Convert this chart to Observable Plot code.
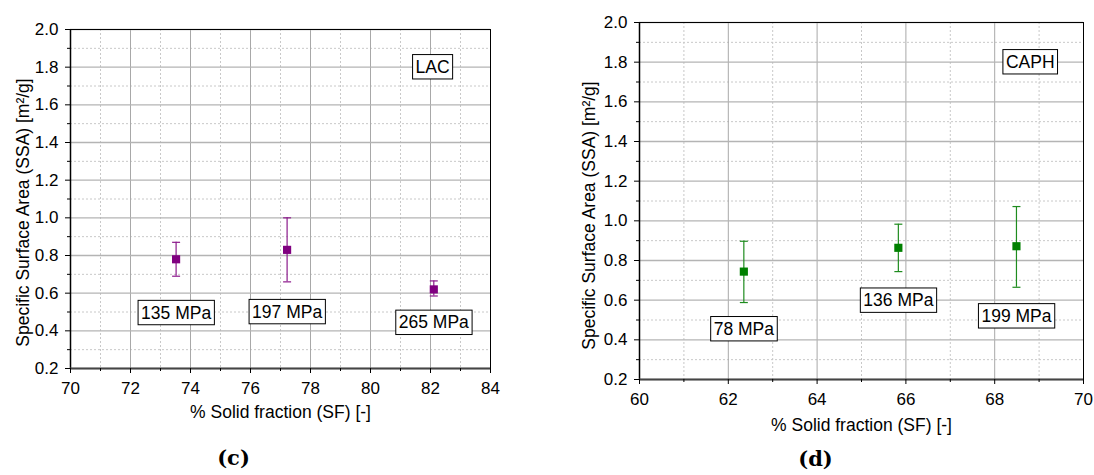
<!DOCTYPE html>
<html>
<head>
<meta charset="utf-8">
<script src="https://cdn.jsdelivr.net/npm/d3@7"></script>
<script src="https://cdn.jsdelivr.net/npm/@observablehq/plot@0.6"></script>
<style>
  body { margin: 0; background: #fff; }
  #wrap { position: relative; width: 1094px; height: 475px; overflow: hidden; background: #fff; }
  #wrap svg { position: absolute; top: 0; }
  #wrap svg g[aria-label$="tick label"], #wrap svg g[aria-label$="tick label"] text { font-size: 17px !important; }
</style>
</head>
<body>
<div id="wrap"></div>
<script>
// ---------- Data ----------
// Panel (c): LAC
const lacSF       = [73.52, 77.22, 82.11];
const lacSSA      = [0.78, 0.83, 0.62];
const lacErrLow   = [0.69, 0.66, 0.585];
const lacErrHigh  = [0.87, 1.00, 0.665];
const lacPressure = ["135 MPa", "197 MPa", "265 MPa"];
const lacLabelY   = [0.495, 0.50, 0.443];

// Panel (d): CAPH
const caphSF       = [62.35, 65.83, 68.49];
const caphSSA      = [0.744, 0.864, 0.872];
const caphErrLow   = [0.588, 0.744, 0.665];
const caphErrHigh  = [0.897, 0.983, 1.072];
const caphPressure = ["78 MPa", "136 MPa", "199 MPa"];
const caphLabelY   = [0.454, 0.598, 0.519];

// Axis ticks
const yMajor   = [0.2, 0.4, 0.6, 0.8, 1.0, 1.2, 1.4, 1.6, 1.8, 2.0];
const yMinor   = [0.3, 0.5, 0.7, 0.9, 1.1, 1.3, 1.5, 1.7, 1.9];
const lacXMajor  = [70, 72, 74, 76, 78, 80, 82, 84];
const lacXMinor  = [71, 73, 75, 77, 79, 81, 83];
const caphXMajor = [60, 62, 64, 66, 68, 70];
const caphXMinor = [61, 63, 65, 67, 69];

const xTitle = "% Solid fraction (SF) [-]";
const yTitle = "Specific Surface Area (SSA) [m\u00B2/g]";

// ---------- Drawing ----------
const BOX_FILL = "#010101"; // marker colour used to find boxed labels
const capSymbol = {
  draw(ctx, size) {
    const r = Math.sqrt(size / Math.PI);
    ctx.moveTo(-r, 0);
    ctx.lineTo(r, 0);
  }
};

function makePanel(o) {
  const rows = o.sf.map((x, i) => ({
    x, y: o.ssa[i], lo: o.lo[i], hi: o.hi[i], label: o.labels[i], ly: o.labelY[i]
  }));
  return Plot.plot({
    width: 547,
    height: 475,
    marginLeft: o.ml, marginRight: o.mr, marginTop: o.mt, marginBottom: o.mb,
    style: {
      fontFamily: "'Liberation Sans', Arial, sans-serif",
      fontSize: "17px",
      background: "transparent",
      color: "#000"
    },
    x: { domain: o.xDomain },
    y: { domain: [0.2, 2.0] },
    marks: [
      Plot.ruleX(o.xMinor, { stroke: "#c8c8c8", strokeDasharray: "2,2" }),
      Plot.ruleY(yMinor, { stroke: "#c8c8c8", strokeDasharray: "2,2" }),
      Plot.ruleX(o.xMajor, { stroke: "#a8a8a8" }),
      Plot.ruleY(yMajor, { stroke: "#b4b4b4", strokeWidth: 1.3 }),
      Plot.frame({ stroke: "#000" }),
      Plot.ruleX([o.xDomain[0]], { stroke: "#000", strokeWidth: 1.5 }),
      Plot.ruleY([0.2], { stroke: "#454545", strokeWidth: 2 }),
      Plot.axisX({ ticks: o.xMajor, tickSize: 5, tickPadding: 8.5, tickFormat: d => String(d), label: null, fontSize: 17 }),
      Plot.axisX({ ticks: o.xMinor, tickSize: 3, tickFormat: () => "", label: null }),
      Plot.axisY({ ticks: yMajor, tickSize: 5, tickPadding: 7, tickFormat: d3.format(".1f"), label: null, fontSize: 17 }),
      Plot.axisY({ ticks: yMinor, tickSize: 3, tickFormat: () => "", label: null }),
      // error bars
      Plot.ruleX(rows, { x: "x", y1: "lo", y2: "hi", stroke: o.barColor, strokeWidth: 1.2 }),
      Plot.dot(rows, { x: "x", y: "lo", symbol: capSymbol, r: 4, stroke: o.barColor, fill: "none", strokeWidth: 1.2 }),
      Plot.dot(rows, { x: "x", y: "hi", symbol: capSymbol, r: 4, stroke: o.barColor, fill: "none", strokeWidth: 1.2 }),
      // markers
      Plot.dot(rows, { x: "x", y: "y", symbol: "square", r: 4.6, fill: o.color, stroke: "none" }),
      // boxed pressure labels
      Plot.text(rows, { x: "x", y: "ly", text: "label", fontSize: 17.5, fill: BOX_FILL }),
      // sample tag
      Plot.text([o.tag], { x: () => o.tagX, y: () => 1.80, text: d => d, fontSize: 17.5, fill: BOX_FILL }),
      // axis titles
      Plot.text([xTitle], { frameAnchor: "bottom", dy: o.xTitleDy, text: d => d, fontSize: 17.5 }),
      Plot.text([yTitle], { frameAnchor: "left", textAnchor: "middle", rotate: -90, dx: o.yTitleDx, dy: o.yTitleDy, text: d => d, fontSize: 17.5 }),
      // panel letter
      Plot.text([o.letter], {
        frameAnchor: "bottom", textAnchor: "middle", dx: o.letterDx, dy: o.letterDy, text: d => d,
        fontFamily: "'DejaVu Serif', 'Liberation Serif', serif", fontWeight: "bold", fontSize: 21
      })
    ]
  });
}

function addBoxes(svg) {
  const ns = "http://www.w3.org/2000/svg";
  svg.querySelectorAll(`g[fill="${BOX_FILL}"] text`).forEach(t => {
    const b = t.getBBox();
    const padX = 3, padY = 2.2;
    const r = document.createElementNS(ns, "rect");
    r.setAttribute("x", b.x - padX);
    r.setAttribute("y", b.y - padY);
    r.setAttribute("width", b.width + 2 * padX);
    r.setAttribute("height", b.height + 2 * padY);
    r.setAttribute("fill", "#fff");
    r.setAttribute("stroke", "#000");
    r.setAttribute("stroke-width", "1");
    const tr = t.getAttribute("transform");
    if (tr) r.setAttribute("transform", tr);
    t.parentNode.insertBefore(r, t);
  });
}

const wrap = document.getElementById("wrap");

const left = makePanel({
  sf: lacSF, ssa: lacSSA, lo: lacErrLow, hi: lacErrHigh, labels: lacPressure, labelY: lacLabelY,
  color: "#800080", barColor: "#8c1a8c",
  xDomain: [70, 84], xMajor: lacXMajor, xMinor: lacXMinor,
  tag: "LAC", tagX: 82.07, letter: "(c)",
  ml: 70, mr: 57, mt: 29, mb: 107,
  xTitleDy: 49.5, yTitleDx: -47.5, yTitleDy: 13.5, letterDx: -47, letterDy: 96
});
left.style.left = "0px";
wrap.appendChild(left);
addBoxes(left);

const right = makePanel({
  sf: caphSF, ssa: caphSSA, lo: caphErrLow, hi: caphErrHigh, labels: caphPressure, labelY: caphLabelY,
  color: "#008000", barColor: "#1f8c1f",
  xDomain: [60, 70], xMajor: caphXMajor, xMinor: caphXMinor,
  tag: "CAPH", tagX: 68.8, letter: "(d)",
  ml: 92, mr: 11, mt: 22, mb: 96,
  xTitleDy: 51, yTitleDx: -50, yTitleDy: 14.5, letterDx: -46, letterDy: 86
});
right.style.left = "547px";
wrap.appendChild(right);
addBoxes(right);
</script>
</body>
</html>
